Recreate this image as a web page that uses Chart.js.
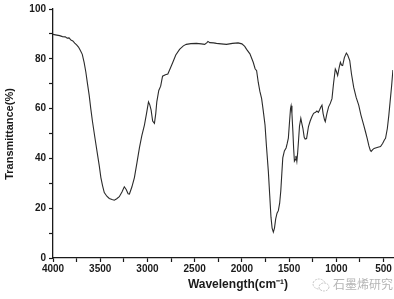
<!DOCTYPE html>
<html>
<head>
<meta charset="utf-8">
<script src="https://cdn.jsdelivr.net/npm/chart.js@4/dist/chart.umd.min.js"></script>
<style>
  body { margin: 0; background: #fff; }
  #wrap { position: relative; width: 394px; height: 299px; }
  #mark { position: absolute; left: 312px; top: 275px; font: 12px "Noto Sans CJK SC"; color: #b5b5b5; white-space: nowrap; }
  #mark svg { vertical-align: -3px; margin-right: 3px; }
</style>
</head>
<body>
<div id="wrap">
  <canvas id="myChart" width="394" height="299"></canvas>
  <div id="mark"><svg width="18" height="14"><ellipse cx="7" cy="6" rx="6" ry="5" fill="none" stroke="#c4c4c4" stroke-dasharray="2 1"/><ellipse cx="12" cy="9" rx="5" ry="4" fill="#fff" stroke="#c4c4c4" stroke-dasharray="2 1"/></svg>石墨烯研究</div>
</div>
<script>
// wavenumber (cm-1) and transmittance (%)
var wavenumber = [4000, 3960, 3930, 3900, 3870, 3850, 3830, 3810, 3790, 3770, 3750, 3730, 3710, 3690, 3670, 3652, 3635, 3617, 3600, 3582,
  3555, 3529, 3510, 3493, 3475, 3457, 3430, 3404, 3375, 3351, 3325, 3298, 3270, 3245, 3225, 3205, 3191, 3165, 3138, 3110,
  3085, 3060, 3032, 3010, 2989, 2975, 2961, 2945, 2926, 2912, 2901, 2880, 2860, 2840, 2810, 2784, 2760, 2731, 2700, 2660,
  2620, 2589, 2540, 2482, 2430, 2394, 2370, 2359, 2340, 2300, 2269, 2220, 2163, 2100, 2040, 2000, 1970, 1950, 1915, 1880,
  1860, 1844, 1827, 1810, 1791, 1775, 1755, 1740, 1720, 1705, 1692, 1680, 1667, 1655, 1642, 1628, 1614, 1600, 1588, 1577,
  1567, 1550, 1532, 1520, 1508, 1495, 1485, 1479, 1470, 1460, 1452, 1444, 1435, 1428, 1418, 1410, 1401, 1390, 1376, 1365,
  1354, 1340, 1330, 1315, 1295, 1277, 1259, 1241, 1220, 1206, 1190, 1178, 1165, 1152, 1140, 1125, 1117, 1100, 1082, 1065,
  1046, 1030, 1011, 1000, 986, 970, 957, 945, 933, 915, 894, 880, 858, 840, 816, 790, 763, 740, 710, 690,
  674, 655, 640, 631, 615, 600, 585, 560, 532, 510, 490, 479, 460, 444, 430, 415, 401];
var transmittance = [89.8, 89.5, 89.3, 88.9, 88.8, 88.3, 88.4, 87.5, 87.2, 86.3, 85.6, 84.7, 83.3, 81.8, 78.5, 74.6, 70, 65.4, 60, 54.8,
  48, 41.6, 37, 32.3, 29, 26.3, 24.8, 23.9, 23.5, 23.2, 23.8, 24.6, 26.5, 28.6, 27.5, 25.8, 25.7, 28.5, 32.3, 38.5,
  44.2, 49, 53.4, 58, 62.7, 61.5, 59.4, 55, 54.1, 58, 62.7, 67.3, 69, 73, 73.6, 73.9, 76, 78.6, 81.5, 83.8,
  85.2, 85.8, 86.1, 86.2, 86, 85.8, 86.5, 87, 86.5, 86.4, 86.2, 86, 85.8, 86.2, 86.4, 86, 85, 83.8, 82, 78.6,
  76, 75.2, 70.6, 67, 64, 59.5, 53.4, 45, 34.9, 25, 16.4, 12, 10.4, 12, 15.7, 18, 19, 22, 27, 34,
  40.2, 43, 44.2, 46, 48.1, 55, 60, 61.1, 58, 50.8, 44, 38.9, 39.5, 41, 38.8, 42, 46.8, 53, 56.1, 54,
  52.1, 48.5, 47.8, 48, 52.8, 55, 56.7, 58.1, 58.5, 59, 58.5, 59.4, 60.5, 61.4, 58, 55.5, 54.8, 58, 60.7, 62,
  64, 70, 75.9, 75, 73.3, 76.5, 78.6, 77.5, 77.3, 80.5, 82.3, 81.5, 79.3, 74, 68.5, 64.5, 61.4, 57.5, 53.4, 50.5,
  48.1, 45, 43.2, 42.8, 43.5, 44, 44.2, 44.5, 44.8, 46, 47.5, 48.1, 52, 57.4, 63, 69, 75.5];
var xTicks = [4000, 3750, 3500, 3250, 3000, 2750, 2500, 2250, 2000, 1750, 1500, 1250, 1000, 750, 500];
var yTicks = [0, 10, 20, 30, 40, 50, 60, 70, 80, 90, 100];
var xTitle = "Wavelength(cm\u207B\u00B9)";
var yTitle = "Transmittance(%)";

var punkte = [];
for (var i = 0; i < wavenumber.length; i++) {
  punkte.push({ x: wavenumber[i], y: transmittance[i] });
}

// axis titles drawn at the spots used in the picture
var titulos = {
  id: "titulos",
  afterDraw: function (chart) {
    var ctx = chart.ctx;
    ctx.save();
    ctx.fillStyle = "#1a1a1a";
    ctx.textAlign = "center";
    ctx.textBaseline = "middle";
    ctx.font = "bold 12px 'Liberation Sans'";
    ctx.fillText(xTitle, 238, 285);
    ctx.font = "bold 11px 'Liberation Sans'";
    ctx.translate(10, 134);
    ctx.rotate(-Math.PI / 2);
    ctx.fillText(yTitle, 0, 0);
    ctx.restore();
  },
};

const config = {
  type: "line",
  data: {
    datasets: [
      {
        data: punkte,
        borderColor: "#2b2b2b",
        borderWidth: 1.1,
        pointRadius: 0,
        tension: 0,
        fill: false,
      },
    ],
  },
  options: {
    responsive: false,
    animation: false,
    layout: { padding: { top: 6, right: 1, left: 0, bottom: 0 } },
    plugins: { legend: { display: false }, tooltip: { enabled: false } },
    scales: {
      x: {
        type: "linear",
        reverse: true,
        min: 400,
        max: 4000,
        afterBuildTicks: function (scale) {
          scale.ticks = xTicks.map(function (v) { return { value: v }; });
        },
        afterFit: function (scale) { scale.height = 41; },
        border: { display: true, color: "#1a1a1a", width: 1.3 },
        grid: { drawOnChartArea: false, drawTicks: true, tickLength: 4, tickColor: "#1a1a1a", tickWidth: 1.2 },
        ticks: {
          autoSkip: false,
          maxRotation: 0,
          padding: 1,
          color: "#1a1a1a",
          font: { family: "Liberation Sans", size: 10, weight: "bold" },
          callback: function (v) { return v % 500 === 0 ? v : ""; },
        },
      },
      y: {
        min: 0,
        max: 100,
        afterBuildTicks: function (scale) {
          scale.ticks = yTicks.map(function (v) { return { value: v }; });
        },
        afterFit: function (scale) { scale.width = 53; },
        border: { display: true, color: "#1a1a1a", width: 1.3 },
        grid: { drawOnChartArea: false, drawTicks: true, tickLength: 4, tickColor: "#1a1a1a", tickWidth: 1.2 },
        ticks: {
          autoSkip: false,
          padding: 3,
          color: "#1a1a1a",
          font: { family: "Liberation Sans", size: 10, weight: "bold" },
          callback: function (v) { return v % 20 === 0 ? v : ""; },
        },
      },
    },
  },
  plugins: [titulos],
};

const myChart = new Chart(document.getElementById("myChart"), config);
</script>
</body>
</html>
